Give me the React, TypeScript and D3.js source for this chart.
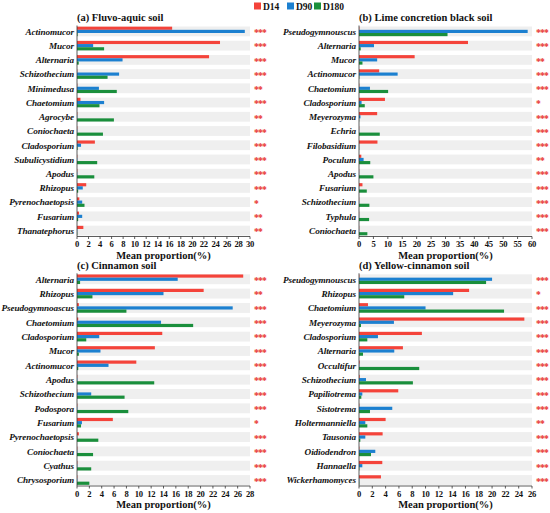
import React from "react";
import * as d3 from "d3";

const seriesNames = ["D14", "D90", "D180"];
const seriesColors = ["#F4433A", "#1C80D0", "#1A8F3C"];

const aTitle = "(a) Fluvo-aquic soil";
const aCats = ["Actinomucor", "Mucor", "Alternaria", "Schizothecium", "Minimedusa", "Chaetomium", "Agrocybe", "Coniochaeta", "Cladosporium", "Subulicystidium", "Apodus", "Rhizopus", "Pyrenochaetopsis", "Fusarium", "Thanatephorus"];
const aD14 = [16.5, 24.8, 22.9, 0.05, 0.05, 0.6, 0.05, 0.05, 3.1, 0.05, 0.05, 1.6, 0.4, 0.35, 1.1];
const aD90 = [29.1, 2.8, 7.9, 7.3, 3.8, 4.7, 0.05, 0.05, 0.7, 0.05, 0.05, 1.0, 0.9, 0.9, 0.05];
const aD180 = [0.1, 4.7, 0.3, 5.3, 6.9, 3.9, 6.4, 4.5, 0.1, 3.5, 3.0, 0.2, 1.3, 0.2, 0.05];
const aSig = ["***", "***", "***", "***", "**", "***", "**", "***", "***", "***", "***", "***", "*", "**", "**"];
const aTicks = d3.range(0, 31, 2);

const bTitle = "(b) Lime concretion black soil";
const bCats = ["Pseudogymnouscus", "Alternaria", "Mucor", "Actinomucor", "Chaetomium", "Cladosporium", "Meyerozyma", "Echria", "Filobasidium", "Poculum", "Apodus", "Fusarium", "Schizothecium", "Typhula", "Coniochaeta"];
const bD14 = [0.1, 37.8, 19.3, 7.0, 0.1, 9.0, 6.3, 0.05, 6.4, 0.8, 0.05, 1.2, 0.05, 0.05, 0.05];
const bD90 = [58.5, 5.2, 6.3, 13.4, 3.8, 0.9, 0.5, 0.05, 0.05, 1.6, 0.05, 0.05, 0.05, 0.05, 0.05];
const bD180 = [30.7, 0.6, 1.2, 0.1, 10.1, 2.0, 0.05, 7.2, 0.05, 3.9, 5.0, 2.7, 3.6, 3.5, 2.9];
const bSig = ["***", "***", "**", "***", "***", "*", "***", "***", "***", "**", "***", "***", "***", "***", "***"];
const bTicks = d3.range(0, 61, 5);

const cTitle = "(c) Cinnamon soil";
const cCats = ["Alternaria", "Rhizopus", "Pseudogymnoascus", "Chaetomium", "Cladosporium", "Mucor", "Actinomucor", "Apodus", "Schizothecium", "Podospora", "Fusarium", "Pyrenochaetopsis", "Coniochaeta", "Cyathus", "Chrysosporium"];
const cD14 = [26.9, 20.5, 0.3, 0.2, 13.8, 12.6, 9.6, 0.05, 0.05, 0.05, 5.8, 0.3, 0.05, 0.05, 0.05];
const cD90 = [16.3, 14.0, 25.2, 13.6, 3.6, 3.8, 5.1, 0.05, 2.3, 0.05, 0.8, 0.05, 0.05, 0.05, 0.05];
const cD180 = [0.5, 2.5, 8.0, 18.8, 1.5, 0.3, 0.2, 12.5, 7.7, 8.3, 0.65, 3.45, 2.6, 2.3, 2.0];
const cSig = ["***", "**", "***", "***", "***", "***", "***", "***", "***", "***", "*", "***", "***", "***", "***"];
const cTicks = d3.range(0, 29, 2);

const dTitle = "(d) Yellow-cinnamon soil";
const dCats = ["Pseudogymnouscus", "Rhizopus", "Chaetomium", "Meyerozyma", "Cladosporium", "Alternaria", "Occultifur", "Schizothecium", "Papiliotrema", "Sistotrema", "Holtermanniella", "Tausonia", "Oidiodendron", "Hannaella", "Wickerhamomyces"];
const dD14 = [0.05, 16.55, 1.35, 24.85, 9.45, 6.6, 0.1, 0.1, 5.9, 0.05, 4.0, 3.55, 0.05, 3.5, 3.3];
const dD90 = [20.0, 14.15, 10.0, 5.25, 2.85, 5.3, 0.05, 1.05, 0.5, 5.0, 0.95, 0.95, 2.45, 0.5, 0.05];
const dD180 = [19.1, 6.8, 21.8, 0.3, 1.25, 0.6, 9.05, 8.1, 0.35, 1.65, 1.25, 0.2, 1.8, 0.05, 0.05];
const dSig = ["***", "*", "***", "***", "***", "***", "***", "***", "***", "***", "**", "***", "***", "***", "***"];
const dTicks = d3.range(0, 27, 2);

const xLabel = "Mean proportion(%)";

type PanelProps = {
  title: string;
  cats: string[];
  series: number[][];
  sig: string[];
  ticks: number[];
  x0: number;
  x1: number;
  top: number;
  bottom: number;
};

const FONT = "'Liberation Serif', 'DejaVu Serif', serif";

function Panel({ title, cats, series, sig, ticks, x0, x1, top, bottom }: PanelProps) {
  const xMax = ticks[ticks.length - 1];
  const x = d3.scaleLinear().domain([0, xMax]).range([x0, x1]);
  const y = d3.scaleBand<string>().domain(cats).range([top, bottom]).paddingInner(0.31).paddingOuter(0.0);
  const sub = d3.scaleBand<number>().domain([0, 1, 2]).range([0, y.bandwidth()]).paddingInner(0).paddingOuter(0.05);
  const axisY = bottom + 1;
  return (
    <g>
      <text x={x0} y={top - 5.5} fontFamily={FONT} fontWeight="bold" fontSize={10.5} fill="#111">
        {title}
      </text>
      {cats.map((c, i) => (
        <g key={c}>
          <rect x={x0} y={y(c)} width={x1 - x0} height={y.bandwidth()} fill="#EFEFEF" />
          {series.map((s, k) => (
            <rect
              key={k}
              x={x(0)}
              y={(y(c) as number) + (sub(k) as number)}
              width={Math.max(0, x(s[i]) - x(0))}
              height={sub.bandwidth()}
              fill={seriesColors[k]}
            />
          ))}
          <text
            x={x0 - 3}
            y={(y(c) as number) + y.bandwidth() / 2 + 3.3}
            textAnchor="end"
            fontFamily={FONT}
            fontWeight="bold"
            fontStyle="italic"
            fontSize={9.2}
            letterSpacing={-0.1}
            fill="#111"
          >
            {c}
          </text>
          <text
            x={x1 + 4}
            y={(y(c) as number) + y.bandwidth() / 2 + 4.8}
            fontFamily={FONT}
            fontWeight="bold"
            fontSize={9.5}
            letterSpacing={-0.8}
            fill="#E8302A"
          >
            {sig[i]}
          </text>
        </g>
      ))}
      <line x1={x0} x2={x0} y1={top - 1} y2={axisY} stroke="#333" strokeWidth={0.8} />
      <line x1={x0} x2={x1} y1={axisY} y2={axisY} stroke="#333" strokeWidth={0.8} />
      {ticks.map((t) => (
        <g key={t}>
          <line x1={x(t)} x2={x(t)} y1={axisY} y2={axisY + 2.5} stroke="#333" strokeWidth={0.8} />
          <text
            x={x(t)}
            y={axisY + 10.5}
            textAnchor="middle"
            fontFamily={FONT}
            fontWeight="bold"
            fontSize={8.6}
            letterSpacing={-0.3}
            fill="#111"
          >
            {t}
          </text>
        </g>
      ))}
      <text
        x={(x0 + x1) / 2}
        y={axisY + 22}
        textAnchor="middle"
        fontFamily={FONT}
        fontWeight="bold"
        fontSize={10.5}
        fill="#111"
      >
        {xLabel}
      </text>
    </g>
  );
}

export default function App() {
  const legendX = [254, 287, 314];
  return (
    <svg width={550} height={513} style={{ position: "absolute", left: 0, top: 0, background: "#fff" }}>
      {seriesNames.map((n, k) => (
        <g key={n}>
          <rect x={legendX[k]} y={2.5} width={7} height={7} fill={seriesColors[k]} />
          <text x={legendX[k] + 9} y={9.5} fontFamily={FONT} fontWeight="bold" fontSize={9.5} fill="#111">
            {n}
          </text>
        </g>
      ))}
      <Panel title={aTitle} cats={aCats} series={[aD14, aD90, aD180]} sig={aSig} ticks={aTicks} x0={77} x1={250} top={26.5} bottom={235.5} />
      <Panel title={bTitle} cats={bCats} series={[bD14, bD90, bD180]} sig={bSig} ticks={bTicks} x0={359} x1={532} top={26.5} bottom={235.5} />
      <Panel title={cTitle} cats={cCats} series={[cD14, cD90, cD180]} sig={cSig} ticks={cTicks} x0={77} x1={250} top={274.3} bottom={485} />
      <Panel title={dTitle} cats={dCats} series={[dD14, dD90, dD180]} sig={dSig} ticks={dTicks} x0={359} x1={532} top={274.3} bottom={485} />
    </svg>
  );
}
